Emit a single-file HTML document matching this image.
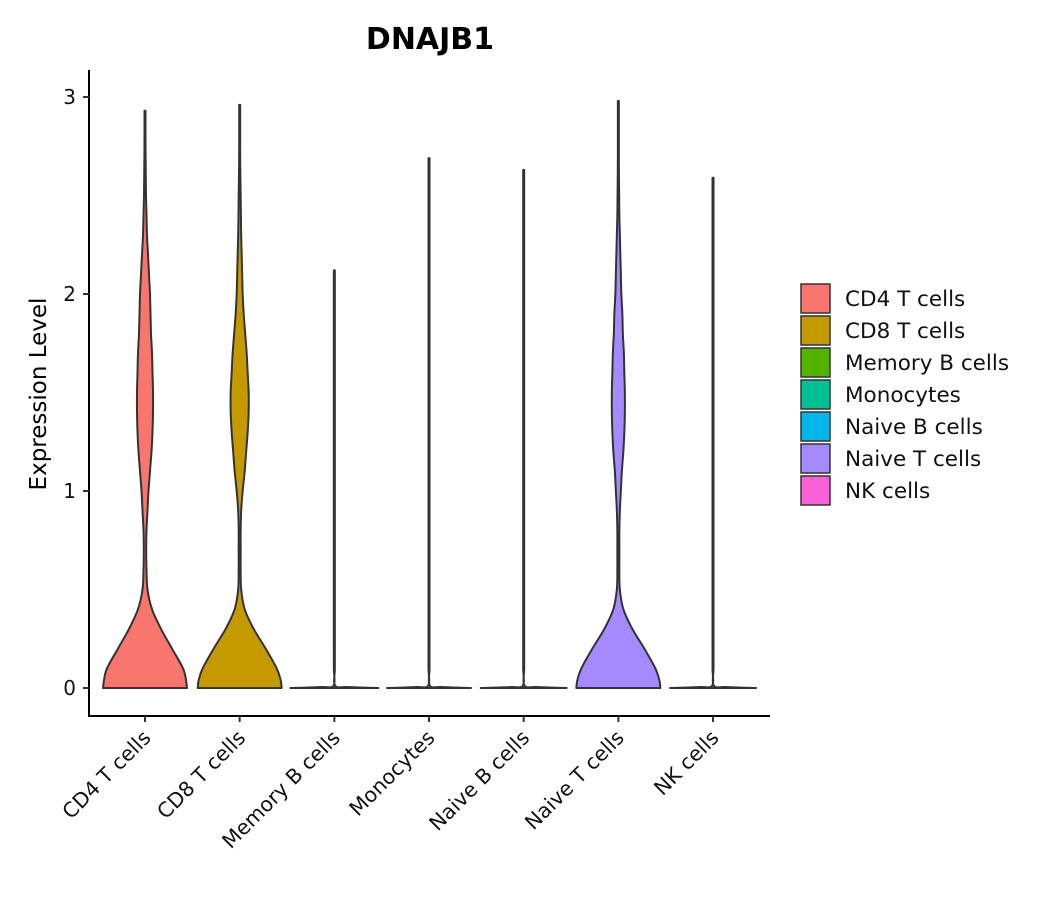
<!DOCTYPE html>
<html><head><meta charset="utf-8"><style>
body{margin:0;background:#fff;}
svg text{font-family:"DejaVu Sans","Liberation Sans",sans-serif;}
</style></head><body>
<svg id="chart" width="1050" height="900" xmlns="http://www.w3.org/2000/svg">
<text x="430" y="49" text-anchor="middle" font-size="30" font-weight="bold" fill="#000">DNAJB1</text>
<text transform="translate(46,394) rotate(-90)" text-anchor="middle" font-size="23" fill="#000">Expression Level</text>
<g id="plot"></g>
<g id="legend"></g>
</svg>
<script>
const categories = ["CD4 T cells","CD8 T cells","Memory B cells","Monocytes","Naive B cells","Naive T cells","NK cells"];
const colors = ["#F8766D","#C49A00","#53B400","#00C094","#00B6EB","#A58AFF","#FB61D7"];
const maxValues = [2.93,2.96,2.12,2.69,2.63,2.98,2.59];
// half-width density (px) sampled at 0, 0.1, 0.2 ... expression
const densCD4 = [42,38,27,16,7,2.5,1.5,1.2,1.5,2.5,3.5,5,6.5,7.5,8,8,7.5,7,6,5.5,5,4,3,2,1.5,1,0.8,0.6,0.5,0.5,0.5];
const densCD8 = [42,37,26,14,5,1.5,1,1,1,1.5,3,5,6.5,8,9,9,8,7,5.5,4,3,2.5,2,1.5,1.2,1,0.7,0.5,0.5,0.5,0.5];
const densNaiveT = [42,37,26,14,5,1.5,1,1,1,1.5,2.5,3.5,5,6,6.5,6.5,6,5.5,4.5,4,3,2.5,2,1.5,1,0.8,0.6,0.5,0.5,0.5,0.5];
const densFlat = [0.5,0.5,0.5,0.5,0.5,0.5,0.5,0.5,0.5,0.5,0.5,0.5,0.5,0.5,0.5,0.5,0.5,0.5,0.5,0.5,0.5,0.5,0.5,0.5,0.5,0.5,0.5,0.5,0.5,0.5,0.5];
const densities = [densCD4,densCD8,densFlat,densFlat,densFlat,densNaiveT,densFlat];
const zeroSpike = [0,0,44,42,43,0,43];
const yTicks = [0,1,2,3];

const NS="http://www.w3.org/2000/svg";
const plot=document.getElementById('plot');
const x0=89,x1=770,yTop=70,yBot=716;
const yScale=v=>688-v*197;
const xScale=i=>145+i*94.67;
function mk(tag,attrs,parent){const e=document.createElementNS(NS,tag);for(const k in attrs)e.setAttribute(k,attrs[k]);parent.appendChild(e);return e;}

categories.forEach((c,i)=>{
  const cx=xScale(i), d=densities[i], mx=maxValues[i];
  const pts=[];
  const spike=zeroSpike[i];
  if(spike>0){
    pts.push([spike,0]);pts.push([spike*0.3,0.005]);pts.push([0.8,0.012]);
  } else { pts.push([d[0],0]); pts.push([d[0]-1,0.04]); }
  for(let k=1;k<d.length;k++){const v=k*0.1;if(v>=mx)break;pts.push([d[k],v]);}
  pts.push([0.5,mx]);
  const right=pts.map(p=>[cx+p[0],yScale(p[1])]);
  const left=pts.slice().reverse().map(p=>[cx-p[0],yScale(p[1])]);
  function smooth(a){let s='';for(let j=0;j<a.length-1;j++){const p0=a[Math.max(j-1,0)],p1=a[j],p2=a[j+1],p3=a[Math.min(j+2,a.length-1)];
    const c1=[p1[0]+(p2[0]-p0[0])/6,p1[1]+(p2[1]-p0[1])/6],c2=[p2[0]-(p3[0]-p1[0])/6,p2[1]-(p3[1]-p1[1])/6];
    s+=` C${c1[0].toFixed(2)},${c1[1].toFixed(2)} ${c2[0].toFixed(2)},${c2[1].toFixed(2)} ${p2[0].toFixed(2)},${p2[1].toFixed(2)}`;}return s;}
  let path=`M${right[0][0]},${right[0][1]}`+smooth(right)+` L${left[0][0]},${left[0][1]}`+smooth(left)+' Z';
  const p=mk('path',{d:path,fill:colors[i],stroke:'#333','stroke-width':2,'stroke-linejoin':'round'},plot);
  
  
});

const ya=mk('line',{x1:x0,y1:yTop,x2:x0,y2:yBot,stroke:'#000','stroke-width':2},plot);


const xa=mk('line',{x1:x0-1,y1:yBot,x2:x1,y2:yBot,stroke:'#000','stroke-width':2},plot);


yTicks.forEach(t=>{
  const y=yScale(t);
  mk('line',{x1:x0-6,y1:y,x2:x0,y2:y,stroke:'#333','stroke-width':2},plot);
  const tx=mk('text',{x:x0-13,y:y+7,'text-anchor':'end','font-size':20,fill:'#111'},plot);
  tx.textContent=t;
  
  
});
categories.forEach((c,i)=>{
  const x=xScale(i);
  mk('line',{x1:x,y1:yBot,x2:x,y2:yBot+6,stroke:'#333','stroke-width':2},plot);
  const tx=mk('text',{transform:`translate(${x+7},${yBot+23}) rotate(-45)`,'text-anchor':'end','font-size':20.5,fill:'#111'},plot);
  tx.textContent=c;
  
  
});

const lg=document.getElementById('legend');
categories.forEach((c,i)=>{
  const y=283+i*32;
  const r=mk('rect',{x:801,y:y+1,width:29,height:29,fill:colors[i],stroke:'#333','stroke-width':1.5},lg);
  
  
  const t=mk('text',{x:845,y:y+23,'font-size':21.5,fill:'#111'},lg);
  t.textContent=c;
  
  
});
</script>
</body></html>
